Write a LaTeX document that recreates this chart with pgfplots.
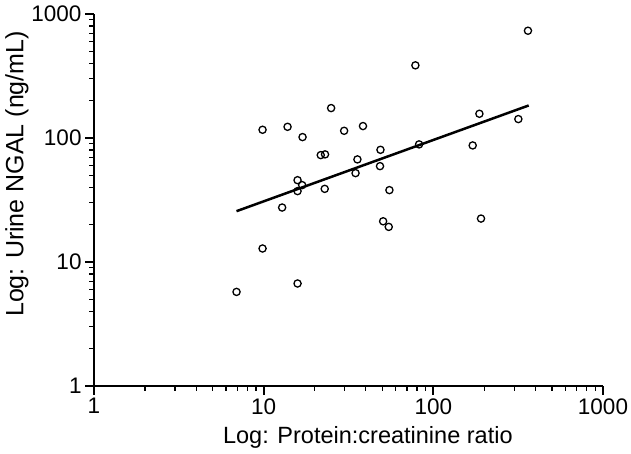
\documentclass[border=0pt]{standalone}
\usepackage{fontspec}
\setmainfont{Liberation Sans}
\usepackage{pgfplots}
\pgfplotsset{compat=1.18}
\begin{document}
\begin{tikzpicture}
\useasboundingbox (-94pt,-67pt) rectangle (537pt,386pt);
\begin{loglogaxis}[
  scale only axis,
  width=509pt, height=372pt,
  xmin=1, xmax=1000, ymin=1, ymax=1000,
  axis x line*=bottom, axis y line*=left,
  axis line style={line width=2pt},
  tick align=outside,
  major tick length=9pt, minor tick length=5pt,
  every major tick/.style={line width=2pt, black},
  every minor tick/.style={line width=1.3pt, black},
  xtick={1,10,100,1000}, xticklabels={1,10,100,1000},
  ytick={1,10,100,1000}, yticklabels={1,10,100,1000},
  minor xtick={2,3,4,5,6,7,8,9,20,30,40,50,60,70,80,90,200,300,400,500,600,700,800,900},
  minor ytick={2,3,4,5,6,7,8,9,20,30,40,50,60,70,80,90,200,300,400,500,600,700,800,900},
  tick label style={font=\fontsize{22.5}{26}\selectfont},
  xlabel={Log: Protein:creatinine ratio},
  ylabel={Log: Urine NGAL (ng/mL)},
  xlabel style={font=\fontsize{23.5}{27}\selectfont, at={(ticklabel cs:0.538)}, anchor=north, yshift=-5pt},
  ylabel style={font=\fontsize{25}{28}\selectfont, at={(ticklabel cs:0.57)}, anchor=south, yshift=-4pt},
  clip=false,
]
\addplot[black, line width=2.5pt, no markers] coordinates {(6.92,25.7) (365,183)};
\addplot[black, only marks, mark=o, mark size=3.6pt, mark options={line width=1.3pt}] coordinates {
(6.92,5.74) (9.85,12.85) (9.85,116.5) (12.85,27.5) (13.83,123.1)
(15.84,45.7) (16.86,41.7) (15.84,37.3) (15.84,6.71) (16.95,101.7)
(21.7,72.8) (23.0,73.8) (22.9,38.9) (24.98,174.3) (29.8,114.3)
(34.8,52.1) (35.7,67.2) (38.5,124.8) (48.8,80.3) (48.5,59.3)
(55.1,38.0) (50.6,21.3) (54.6,19.2) (78.4,385.5) (82.4,88.8)
(170.6,87.1) (186.9,156.8) (191.0,22.4) (317,142.1) (361.2,733)
};
\end{loglogaxis}
\end{tikzpicture}
\end{document}
